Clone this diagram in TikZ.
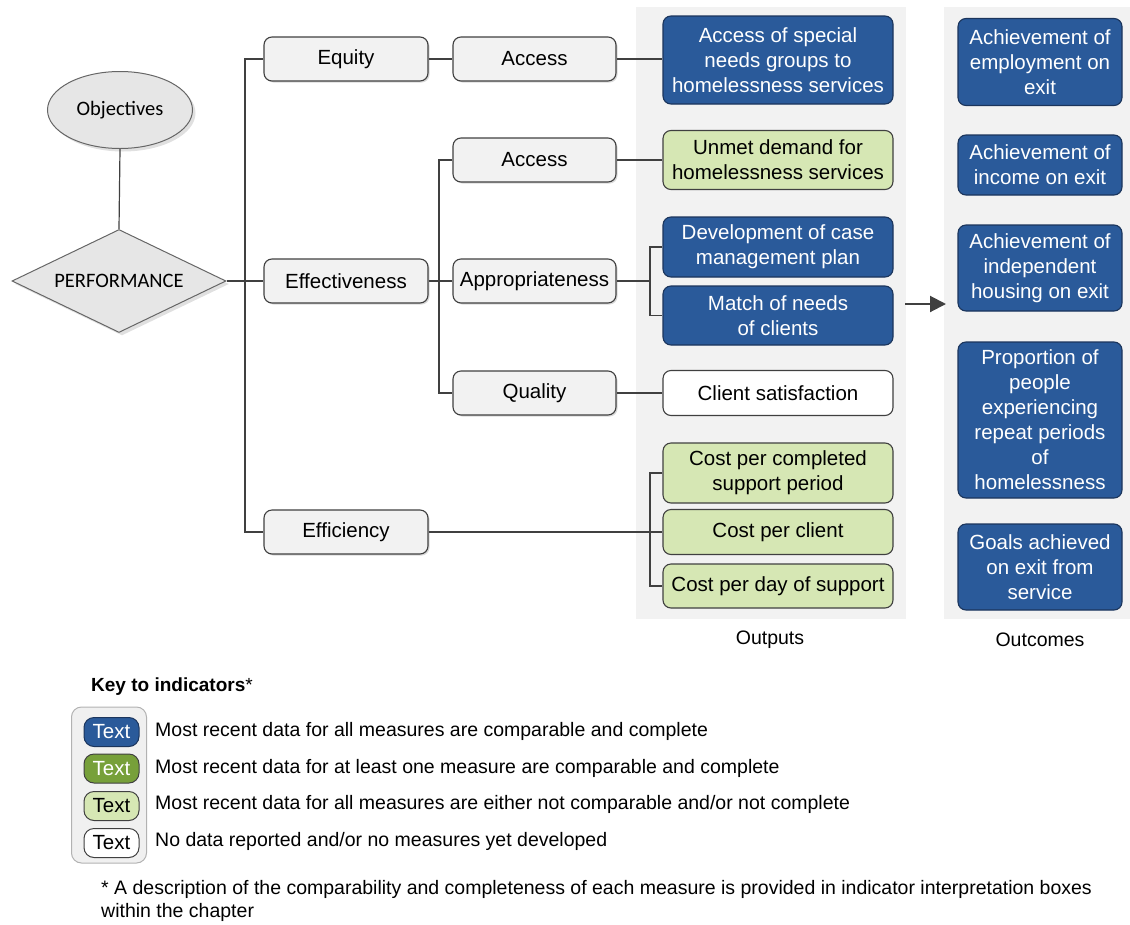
\documentclass[tikz,border=0pt]{standalone}
\usepackage{fontspec}
\setmainfont{Liberation Sans}
\newfontfamily\calib{Carlito}
\usetikzlibrary{shapes.geometric,shadows,arrows.meta}
\definecolor{bluefill}{HTML}{2A5A9A}
\definecolor{blueedge}{HTML}{1B355C}
\definecolor{lgreen}{HTML}{D6E7B4}
\definecolor{dgreen}{HTML}{77A03A}
\definecolor{panel}{HTML}{F2F2F2}
\definecolor{linec}{HTML}{404040}
\definecolor{shapefill}{HTML}{E6E6E6}
\begin{document}
\begin{tikzpicture}[x=1pt,y=-1pt,
  conn/.style={draw=linec, line width=1.2pt},
  box/.style={draw=linec, line width=1.1pt, rounded corners=8pt, align=center,
    font=\fontsize{20.5}{25}\selectfont, inner sep=0pt, minimum height=44pt},
  lvl/.style={box, fill=panel, minimum width=164pt,
    drop shadow={shadow xshift=1.5pt, shadow yshift=-1.5pt, fill=black!25, opacity=.6}},
  outb/.style={box, minimum width=230pt},
  outc/.style={box, minimum width=164pt},
  blu/.style={fill=bluefill, draw=blueedge, text=white},
  lgr/.style={fill=lgreen, draw=linec},
  wht/.style={fill=white, draw=linec},
  chip/.style={draw=linec, line width=1pt, rounded corners=10pt, minimum width=55pt,
    minimum height=29pt, inner sep=0pt, font=\fontsize{20.5}{25}\selectfont},
  keytxt/.style={anchor=west, inner sep=0pt, font=\fontsize{19.5}{23}\selectfont},
  lab/.style={inner sep=0pt, font=\fontsize{19.5}{23}\selectfont}
]
\useasboundingbox (0,0) rectangle (1130,924);
% panels
\fill[panel] (636,7) rectangle (906,619);
\fill[panel] (944,7) rectangle (1130,619);

% objectives and performance
\node[ellipse, draw=black!60, line width=1pt, fill=shapefill, minimum width=145pt, minimum height=77pt,
  inner sep=0pt, font=\calib\fontsize{20.5}{24}\selectfont,
  drop shadow={shadow xshift=3pt, shadow yshift=-3pt, fill=black!20, opacity=.6}] (obj) at (120,110) {Objectives};
\node[diamond, aspect=2.078, draw=black!60, line width=1pt, fill=shapefill, minimum width=214pt, minimum height=103pt,
  inner sep=0pt, font=\calib\fontsize{20.5}{24}\selectfont,
  drop shadow={shadow xshift=3pt, shadow yshift=-3pt, fill=black!20, opacity=.6}] (perf) at (119,281) {PERFORMANCE};

% level 1
\node[lvl] (equity) at (346,59) {Equity};
\node[lvl] (eff) at (346,281) {Effectiveness};
\node[lvl] (effi) at (346,532) {Efficiency};

% level 2
\node[lvl, minimum width=163pt] (acc1) at (534.5,59) {Access};
\node[lvl, minimum width=163pt] (acc2) at (534.5,160) {Access};
\node[lvl, minimum width=163pt] (appr) at (534.5,281) {Appropriateness};
\node[lvl, minimum width=163pt] (qual) at (534.5,393) {Quality};

% outputs
\node[outb, blu, minimum height=88pt] (o1) at (778,60) {Access of special\\needs groups to\\homelessness services};
\node[outb, lgr, minimum height=59pt] (o2) at (778,160) {Unmet demand for\\homelessness services};
\node[outb, blu, minimum height=60pt] (o3) at (778,247) {Development of case\\management plan};
\node[outb, blu, minimum height=59pt] (o4) at (778,315.5) {Match of needs\\of clients};
\node[outb, wht, minimum height=45pt] (o5) at (778,393) {Client satisfaction};
\node[outb, lgr, minimum height=60pt] (o6) at (778,473) {Cost per completed\\support period};
\node[outb, lgr, minimum height=45pt] (o7) at (778,532) {Cost per client};
\node[outb, lgr, minimum height=44pt] (o8) at (778,586) {Cost per day of support};

% outcomes
\node[outc, blu, minimum height=87pt] (c1) at (1040,62) {Achievement of\\employment on\\exit};
\node[outc, blu, minimum height=60pt] (c2) at (1040,165) {Achievement of\\income on exit};
\node[outc, blu, minimum height=86pt] (c3) at (1040,268) {Achievement of\\independent\\housing on exit};
\node[outc, blu, minimum height=156pt] (c4) at (1040,420) {Proportion of\\people\\experiencing\\repeat periods\\of\\homelessness};
\node[outc, blu, minimum height=86pt] (c5) at (1040,567) {Goals achieved\\on exit from\\service};

\node[lab] (outputs) at (770,640) {Outputs};
\node[lab] (outcomes) at (1040,640) {Outcomes};

% connectors
\draw[conn] (obj.south) -- (perf.north);
\draw[conn] (perf.east) -- (eff.west);
\draw[conn] (equity.west) -- (245,59) |- (effi.west);
\draw[conn] (equity.east) -- (acc1.west);
\draw[conn] (acc1.east) -- (acc1.east -| o1.west);
\draw[conn] (eff.east) -- (appr.west);
\draw[conn] (acc2.west) -- (439,160) |- (qual.west);
\draw[conn] (acc2.east) -- (o2.west);
\draw[conn] (appr.east) -- (650,281);
\draw[conn] (o3.west) -- (650,247) |- (o4.west);
\draw[conn] (qual.east) -- (o5.west);
\draw[conn] (effi.east) -- (o7.west);
\draw[conn] (o6.west) -- (650,473) |- (o8.west);

\coordinate (arrS) at (905,304);
\coordinate (arrE) at (946,304);
\draw[draw=linec, line width=2pt, -{Triangle[length=16pt,width=16pt]}] (arrS) -- (arrE);

% key
\node[anchor=west, inner sep=0pt, font=\fontsize{19}{23}\selectfont] (keytitle) at (91,687) {\textbf{Key to indicators}*};
\node[draw=black!30, fill=black!6, line width=1pt, rounded corners=10pt, minimum width=75pt, minimum height=156pt] (keybg) at (109,785) {};
\node[chip, fill=bluefill, draw=blueedge, text=white] (k1) at (111.5,732) {Text};
\node[chip, fill=dgreen, draw=linec, text=white] (k2) at (111.5,768.5) {Text};
\node[chip, fill=lgreen] (k3) at (111.5,806) {Text};
\node[chip, fill=white] (k4) at (111.5,843) {Text};
\node[keytxt] (t1) at (155,731) {Most recent data for all measures are comparable and complete};
\node[keytxt] (t2) at (155,768) {Most recent data for at least one measure are comparable and complete};
\node[keytxt] (t3) at (155,804) {Most recent data for all measures are either not comparable and/or not complete};
\node[keytxt] (t4) at (155,841) {No data reported and/or no measures yet developed};
\node[anchor=north west, inner sep=0pt, align=left, font=\fontsize{19.5}{23}\selectfont] (foot) at (101,880)
  {* A description of the comparability and completeness of each measure is provided in indicator interpretation boxes\\within the chapter};
\end{tikzpicture}
\end{document}
